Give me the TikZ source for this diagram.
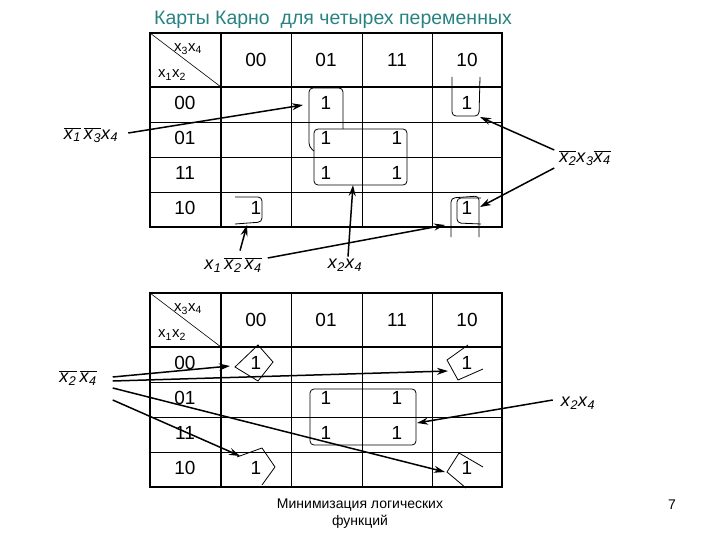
\documentclass[tikz,border=0pt]{standalone}
\usepackage{fontspec}
\setmainfont{Liberation Sans}
\usetikzlibrary{arrows.meta}

\definecolor{titleteal}{RGB}{40,130,130}
\newcommand{\xv}[1]{\textit{x}\textsubscript{\textit{#1}}}
\newcommand{\nxv}[1]{$\overline{\hbox{\xv{#1}}}$}

\begin{document}
\begin{tikzpicture}[x=1pt, y=-1pt,
		thinline/.style={line width=0.9pt},
		thickline/.style={line width=2.4pt},
		cell/.style={font=\fontsize{19}{19}\selectfont, inner sep=0pt},
		hdr/.style={font=\fontsize{15}{15}\selectfont, inner sep=0pt},
		lbl/.style={font=\fontsize{18}{18}\selectfont, inner sep=1pt},
		ring/.style={line width=0.8pt, rounded corners=4pt},
		pointer/.style={line width=1.5pt, -{Stealth[length=11pt, width=7pt]}}
		]
		\useasboundingbox (0,0) rectangle (720,540);
		
		% Title
		\node[anchor=west, text=titleteal, font=\fontsize{19.5}{19.5}\selectfont, inner sep=0pt] (title) at (154,20) {Карты Карно\ \ для четырех переменных};
		
		% Both maps
		\foreach \top/\m in {33/t, 293/b} {
			\draw[thinline] (291,\top) -- (291,{\top+194});
			\draw[thinline] (362,\top) -- (362,{\top+194});
			\draw[thinline] (432,\top) -- (432,{\top+194});
			\draw[thinline] (150,{\top+89}) -- (502,{\top+89});
			\draw[thinline] (150,{\top+124}) -- (502,{\top+124});
			\draw[thinline] (150,{\top+159}) -- (502,{\top+159});
			\draw[line width=0.6pt] (150,\top) -- (221,{\top+54});
			\draw[thickline] (221,\top) -- (221,{\top+194});
			\draw[thickline] (150,{\top+54}) -- (502,{\top+54});
			\draw[thickline] (150,\top) rectangle (502,{\top+194});
			\node[hdr] (\m-x34) at (188,{\top+16}) {x\textsubscript{3}x\textsubscript{4}};
			\node[hdr] (\m-x12) at (172,{\top+42}) {x\textsubscript{1}x\textsubscript{2}};
			\foreach \v/\cx in {00/256, 01/326, 11/397, 10/467}
				\node[cell] (\m-c\v) at (\cx,{\top+27}) {\v};
			\foreach \v/\ry in {00/70, 01/105, 11/140, 10/175}
				\node[cell] (\m-r\v) at (185,{\top+\ry}) {\v};
		}
		
		% Ones, upper map
		\foreach \n/\px/\py in {a/326/103, b/467/103, c/326/138, d/397/138, e/326/173, f/397/173, g/256/208, h/467/208}
			\node[cell] (t-\n) at (\px,\py) {1};
		
		% Ones, lower map
		\foreach \n/\px/\py in {a/256/363, b/467/363, c/326/398, d/397/398, e/326/433, f/397/433, g/256/468, h/467/468}
			\node[cell] (b-\n) at (\px,\py) {1};
		
		% Groups, upper map
		\draw[ring] (314,151) -- (309,147) -- (309,88) -- (343,88) -- (343,129);
		\draw[ring] (314,129) rectangle (407,185);
		\draw[ring] (452,77) -- (452,116) -- (479,116) -- (480,77);
		\draw[ring] (451,237) -- (451,198) -- (479,196) -- (479,237);
		\draw[ring] (481,198) -- (457,198) -- (457,223) -- (481,224);
		\draw[ring] (235,197) -- (262,197) -- (262,222) -- (235,224);
		
		% Groups, lower map
		\draw[ring] (310,389) rectangle (416,445);
		\draw[line width=0.8pt] (235,367) -- (258,345) -- (273,362) -- (258,381) -- cycle;
		\draw[line width=0.8pt] (237,457) -- (262,448) -- (275,467) -- (262,485);
		\draw[line width=0.8pt] (468,345) -- (447,360) -- (458,380) -- (483,369);
		\draw[line width=0.8pt] (483,467) -- (459,453) -- (447,472) -- (466,488);
		
		% Term labels
		\node[lbl] (lA) at (91,135) {\nxv{1}\,\nxv{3}\xv{4}};
		\node[lbl] (lB) at (585,158) {\nxv{2}\xv{3}\nxv{4}};
		\node[lbl] (lC) at (233,265) {\xv{1}\,\nxv{2}\,\nxv{4}};
		\node[lbl] (lD) at (345,265) {\xv{2}\xv{4}};
		\node[lbl] (lE) at (78,378) {\nxv{2}\,\nxv{4}};
		\node[lbl] (lF) at (578,403) {\xv{2}\xv{4}};
		
		% Arrow tips
		\coordinate (tA) at (303,105);
		\coordinate (tB1) at (480,117);
		\coordinate (tB2) at (480,207);
		\coordinate (tC1) at (247,225);
		\coordinate (tC2) at (445,225);
		\coordinate (tD) at (353,185);
		\coordinate (tE1) at (230,366);
		\coordinate (tE2) at (448,371);
		\coordinate (tE3) at (445,472);
		\coordinate (tE4) at (240,456);
		\coordinate (tF) at (417,423);
		
		% Connect them
		\draw[pointer] ([xshift=9pt, yshift=2pt]lA.east) -- (tA);
		\draw[pointer] ([xshift=-4pt, yshift=8pt]lB.west) -- (tB1);
		\draw[pointer] ([xshift=-4pt, yshift=-10pt]lB.west) -- (tB2);
		\draw[pointer] ([xshift=7pt, yshift=6pt]lC.north) -- (tC1);
		\draw[pointer] ([xshift=5pt, yshift=7pt]lC.east) -- (tC2);
		\draw[pointer] ([xshift=3pt, yshift=1pt]lD.north) -- (tD);
		\draw[pointer] ([xshift=15pt, yshift=1pt]lE.east) -- (tE1);
		\draw[pointer] ([xshift=15pt, yshift=-3pt]lE.east) -- (tE2);
		\draw[pointer] ([xshift=15pt, yshift=-10pt]lE.east) -- (tE3);
		\draw[pointer] ([xshift=15pt, yshift=-22pt]lE.east) -- (tE4);
		\draw[pointer] ([xshift=-7pt, yshift=3pt]lF.west) -- (tF);
		
		% Footer
		\node[align=center, font=\fontsize{14}{17}\selectfont, inner sep=0pt] (foot) at (360,514) {Минимизация логических\\функций};
		\node[font=\fontsize{14}{14}\selectfont, inner sep=0pt] (page) at (672,505) {7};
	\end{tikzpicture}
\end{document}
